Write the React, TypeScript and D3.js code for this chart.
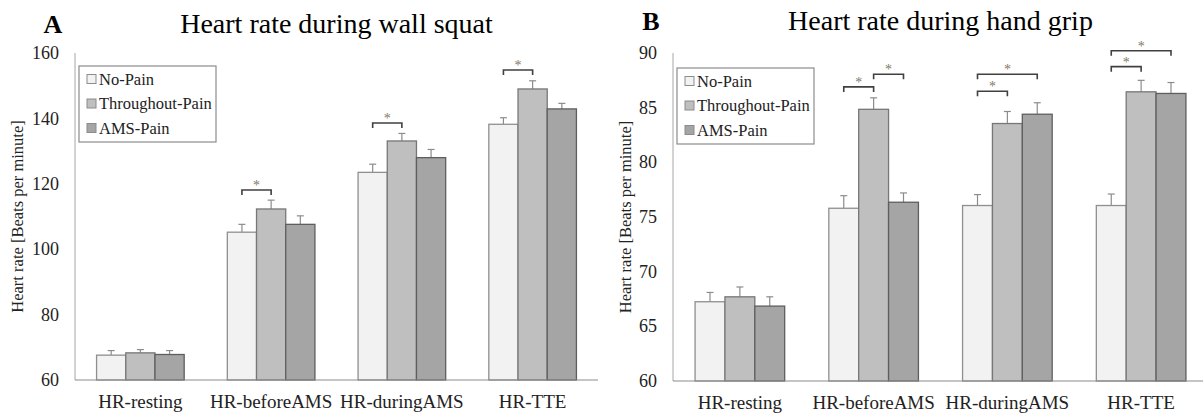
import React from "react";
import * as d3 from "d3";

const categories = ["HR-resting", "HR-beforeAMS", "HR-duringAMS", "HR-TTE"];
const seriesNames = ["No-Pain", "Throughout-Pain", "AMS-Pain"];

// wall squat (panel A)
const squatNoPain = [67.6, 105.2, 123.5, 138.2];
const squatThroughout = [68.3, 112.3, 133.1, 149.0];
const squatAms = [67.8, 107.6, 128.0, 142.9];
const squatNoPainErr = [1.4, 2.4, 2.5, 2.0];
const squatThroughoutErr = [1.0, 2.7, 2.3, 2.5];
const squatAmsErr = [1.2, 2.6, 2.5, 1.7];
const squatTicks = [60, 80, 100, 120, 140, 160];
// significance brackets: category, bar from, bar to, height in bpm
const squatSig = [
  { cat: 1, from: 0, to: 1, at: 118.1 },
  { cat: 2, from: 0, to: 1, at: 138.6 },
  { cat: 3, from: 0, to: 1, at: 154.8 },
];

// hand grip (panel B)
const gripNoPain = [67.25, 75.8, 76.05, 76.05];
const gripThroughout = [67.7, 84.85, 83.55, 86.45];
const gripAms = [66.85, 76.35, 84.4, 86.3];
const gripNoPainErr = [0.85, 1.15, 1.0, 1.05];
const gripThroughoutErr = [0.9, 1.05, 1.1, 1.05];
const gripAmsErr = [0.85, 0.85, 1.05, 1.0];
const gripTicks = [60, 65, 70, 75, 80, 85, 90];
const gripSig = [
  { cat: 1, from: 0, to: 1, at: 86.9 },
  { cat: 1, from: 1, to: 2, at: 88.05 },
  { cat: 2, from: 0, to: 1, at: 86.5 },
  { cat: 2, from: 0, to: 2, at: 88.05 },
  { cat: 3, from: 0, to: 1, at: 88.75 },
  { cat: 3, from: 0, to: 2, at: 90.2 },
];

const fills = ["#f2f2f2", "#bfbfbf", "#a5a5a5"];
const strokes = ["#8f8f8f", "#777777", "#5e5e5e"];
const serif = "'Liberation Serif', 'Times New Roman', serif";

type Sig = { cat: number; from: number; to: number; at: number };

function Panel(props: {
  letter: string;
  title: string;
  left: number;
  right: number;
  top: number;
  bottom: number;
  domain: [number, number];
  ticks: number[];
  values: number[][];
  errors: number[][];
  sig: Sig[];
  titleY: number;
  legendTop: number;
  labelX: number;
}) {
  const { left, right, top, bottom, values, errors } = props;
  const x = d3
    .scaleBand<string>()
    .domain(categories)
    .range([left, right])
    .paddingInner(0.33)
    .paddingOuter(0.165);
  const xs = d3
    .scaleBand<number>()
    .domain(d3.range(seriesNames.length))
    .range([0, x.bandwidth()]);
  const y = d3.scaleLinear().domain(props.domain).range([bottom, top]);
  const bw = xs.bandwidth();
  const barCx = (c: number, s: number) => (x(categories[c]) ?? 0) + (xs(s) ?? 0) + bw / 2;

  return (
    <g fontFamily={serif}>
      <text x={left - 22} y={props.titleY} fontSize={26} fontWeight="bold" textAnchor="middle">
        {props.letter}
      </text>
      <text x={(left + right) / 2} y={props.titleY} fontSize={28} textAnchor="middle">
        {props.title}
      </text>
      {/* y axis */}
      <line x1={left} x2={left} y1={top} y2={bottom} stroke="#a6a6a6" strokeWidth={1} />
      {props.ticks.map((t) => (
        <text key={t} x={left - 16} y={y(t)} dy="0.34em" fontSize={18} textAnchor="end" fill="#222">
          {t}
        </text>
      ))}
      <text
        transform={`translate(${props.labelX},${(top + bottom) / 2}) rotate(-90)`}
        fontSize={16.5}
        textAnchor="middle"
        fill="#222"
      >
        Heart rate [Beats per minute]
      </text>
      {/* bars */}
      {categories.map((c, ci) =>
        seriesNames.map((s, si) => {
          const v = values[si][ci];
          const e = errors[si][ci];
          const bx = (x(c) ?? 0) + (xs(si) ?? 0);
          const cx = bx + bw / 2;
          return (
            <g key={c + s}>
              <line x1={cx} x2={cx} y1={y(v)} y2={y(v + e)} stroke="#8c8c8c" strokeWidth={1.2} />
              <line x1={cx - 3.5} x2={cx + 3.5} y1={y(v + e)} y2={y(v + e)} stroke="#8c8c8c" strokeWidth={1.2} />
              <rect
                x={bx}
                y={y(v)}
                width={bw}
                height={y(props.domain[0]) - y(v)}
                fill={fills[si]}
                stroke={strokes[si]}
                strokeWidth={1.3}
              />
            </g>
          );
        })
      )}
      {/* x axis */}
      <line x1={left} x2={right} y1={bottom} y2={bottom} stroke="#8c8c8c" strokeWidth={1.2} />
      {categories.map((c) => (
        <text
          key={c}
          x={(x(c) ?? 0) + x.bandwidth() / 2}
          y={bottom + 28}
          fontSize={19}
          textAnchor="middle"
          fill="#222"
        >
          {c}
        </text>
      ))}
      {/* significance */}
      {props.sig.map((d, i) => {
        const x1 = barCx(d.cat, d.from);
        const x2 = barCx(d.cat, d.to);
        const yy = y(d.at);
        return (
          <g key={i}>
            <path
              d={`M${x1},${yy + 5}V${yy}H${x2}V${yy + 5}`}
              fill="none"
              stroke="#404040"
              strokeWidth={1.6}
            />
            <text x={(x1 + x2) / 2} y={yy} fontSize={14} textAnchor="middle" fill="#7f7866">
              *
            </text>
          </g>
        );
      })}
      {/* legend */}
      <g transform={`translate(${left + 4},${props.legendTop})`}>
        <rect x={0} y={0} width={137} height={76} fill="white" stroke="#8c8c8c" strokeWidth={1.2} />
        {seriesNames.map((s, i) => (
          <g key={s} transform={`translate(0,${13 + i * 24.5})`}>
            <rect x={8} y={-4.5} width={9} height={9} fill={fills[i]} stroke="#8c8c8c" strokeWidth={1} />
            <text x={20} y={0} dy="0.34em" fontSize={16.5} fill="#222">
              {s}
            </text>
          </g>
        ))}
      </g>
    </g>
  );
}

export default function App() {
  return (
    <div style={{ position: "absolute", left: 0, top: 0 }}>
      <svg width={1203} height={416} style={{ display: "block", background: "white" }}>
        <Panel
          letter="A"
          title="Heart rate during wall squat"
          left={75}
          right={598}
          top={53}
          bottom={380}
          domain={[60, 160]}
          ticks={squatTicks}
          values={[squatNoPain, squatThroughout, squatAms]}
          errors={[squatNoPainErr, squatThroughoutErr, squatAmsErr]}
          sig={squatSig}
          titleY={33}
          legendTop={66}
          labelX={23}
        />
        <Panel
          letter="B"
          title="Heart rate during hand grip"
          left={673}
          right={1208}
          top={53}
          bottom={381}
          domain={[60, 90]}
          ticks={gripTicks}
          values={[gripNoPain, gripThroughout, gripAms]}
          errors={[gripNoPainErr, gripThroughoutErr, gripAmsErr]}
          sig={gripSig}
          titleY={30}
          legendTop={68}
          labelX={631}
        />
      </svg>
    </div>
  );
}
